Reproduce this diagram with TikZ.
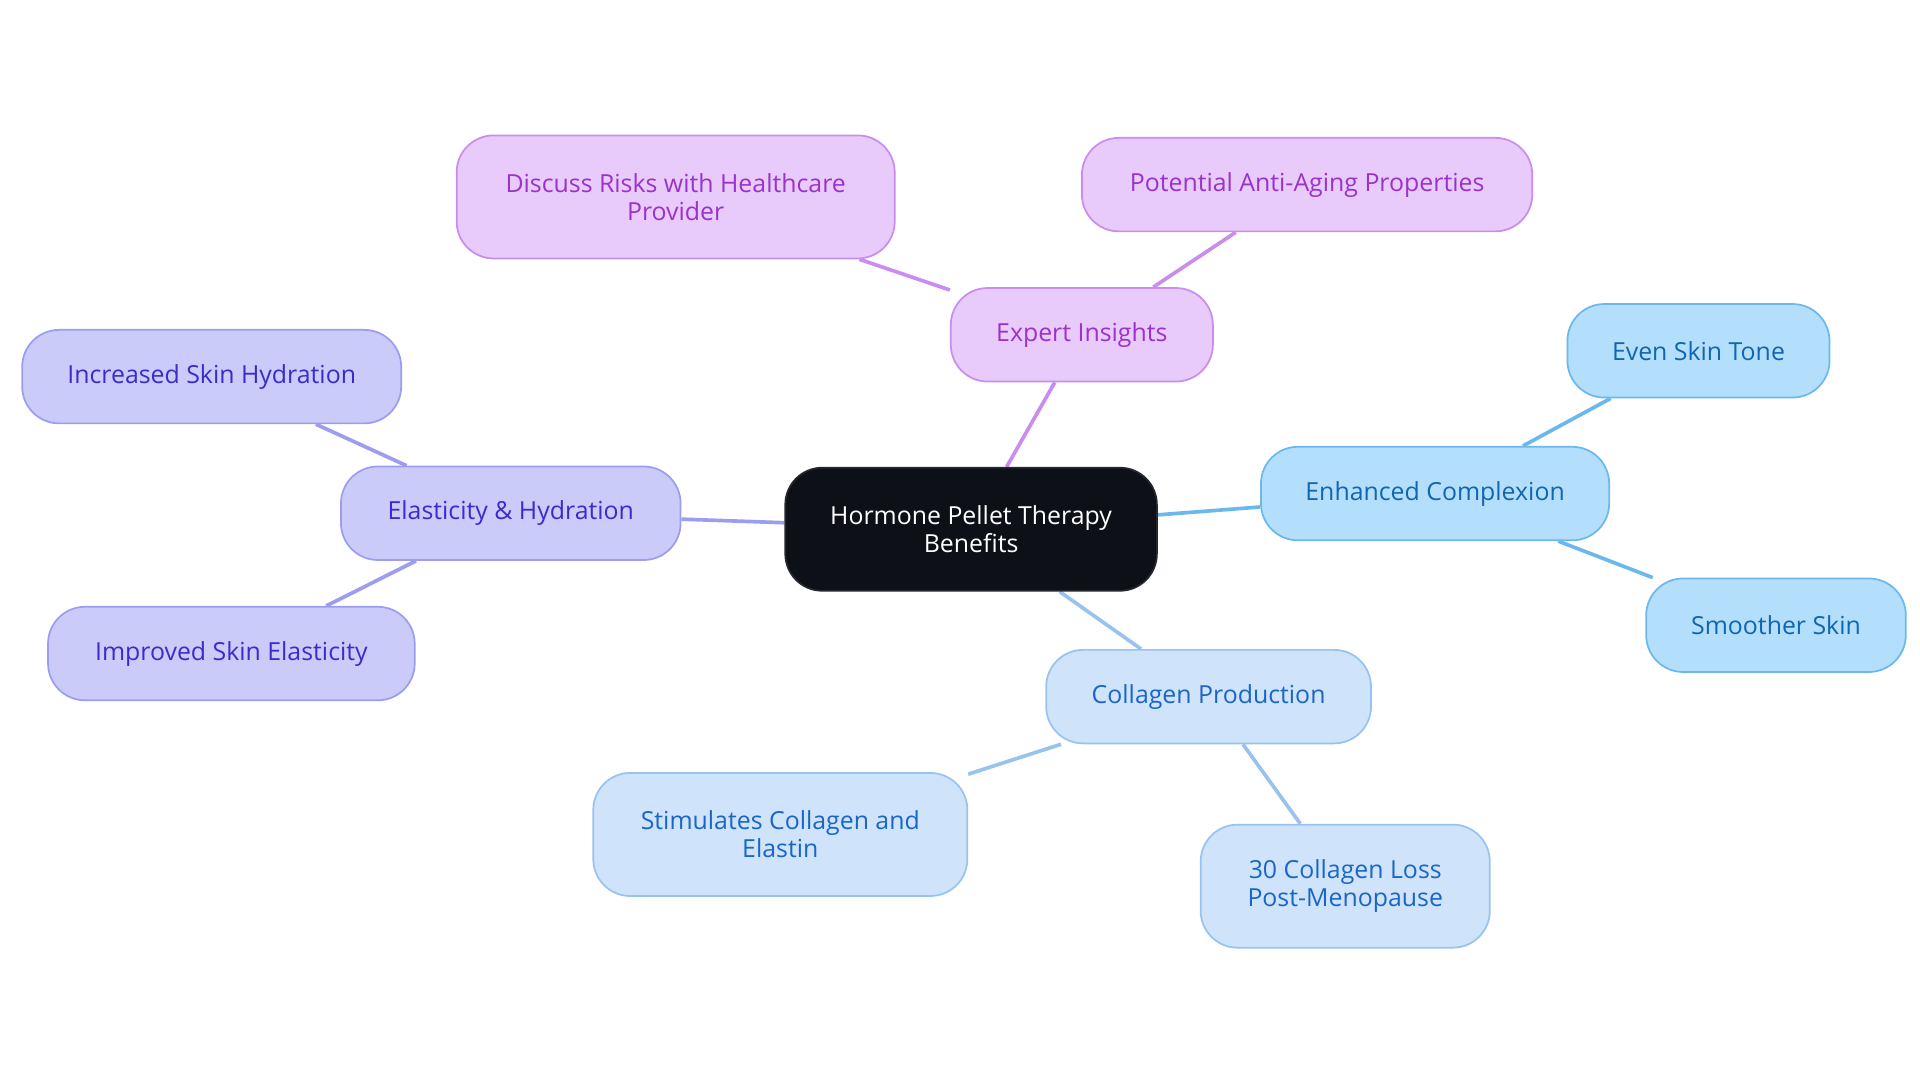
\documentclass[tikz,border=0pt]{standalone}
\usepackage{fontspec}
\setmainfont{Open Sans}
\usetikzlibrary{positioning, backgrounds}
\definecolor{rootfill}{HTML}{0D1117}
\definecolor{purplefill}{HTML}{E8CAFB}
\definecolor{purpleline}{HTML}{C98CEF}
\definecolor{purpletext}{HTML}{9A32CC}
\definecolor{indigofill}{HTML}{CBCBFA}
\definecolor{indigoline}{HTML}{9C9CF0}
\definecolor{indigotext}{HTML}{3A2CCC}
\definecolor{skyfill}{HTML}{B3DFFC}
\definecolor{skyline}{HTML}{6CB8EC}
\definecolor{skytext}{HTML}{1166B0}
\definecolor{paleblue}{HTML}{CFE3FA}
\definecolor{paleline}{HTML}{98C3EF}
\definecolor{paletext}{HTML}{1A66C8}

\begin{document}
\begin{tikzpicture}[
    x=0.02cm, y=-0.02cm,
    topic/.style={ % base style for all bubbles
        rectangle,
        rounded corners=0.6cm,
        minimum height=1.52cm,
        align=center,
        font=\fontsize{11.5}{13}\selectfont,
        line width=0.8pt
    },
    tall/.style={minimum height=2cm},
    root/.style={topic, fill=rootfill, draw=rootfill!80!gray, text=white},
    expert/.style={topic, fill=purplefill, draw=purpleline, text=purpletext},
    elastic/.style={topic, fill=indigofill, draw=indigoline, text=indigotext},
    complexion/.style={topic, fill=skyfill, draw=skyline, text=skytext},
    collagen/.style={topic, fill=paleblue, draw=paleline, text=paletext},
    link/.style={line width=1.7pt, draw=#1}
]
\useasboundingbox (0,0) rectangle (1560,880);

% Centre
\node[root, tall, minimum width=6.04cm] (hpt) at (789,430) {Hormone Pellet Therapy\\Benefits};

% Expert insights branch
\node[expert, minimum width=4.26cm] (expert) at (879,272) {Expert Insights};
\node[expert, tall, minimum width=7.12cm] (risks) at (549,160) {Discuss Risks with Healthcare\\Provider};
\node[expert, minimum width=7.32cm] (antiaging) at (1062,150) {Potential Anti-Aging Properties};

% Elasticity branch
\node[elastic, minimum width=5.52cm] (elastic) at (415,417) {Elasticity \& Hydration};
\node[elastic, minimum width=6.16cm] (hydration) at (172,306) {Increased Skin Hydration};
\node[elastic, minimum width=5.96cm] (elasticity) at (188,531) {Improved Skin Elasticity};

% Complexion branch
\node[complexion, minimum width=5.66cm] (complexion) at (1166,401) {Enhanced Complexion};
\node[complexion, minimum width=4.26cm] (tone) at (1380,285) {Even Skin Tone};
\node[complexion, minimum width=4.22cm] (smoother) at (1443,508) {Smoother Skin};

% Collagen branch
\node[collagen, minimum width=5.28cm] (collagen) at (982,566) {Collagen Production};
\node[collagen, tall, minimum width=6.08cm] (stimulates) at (634,678) {Stimulates Collagen and\\Elastin};
\node[collagen, tall, minimum width=4.7cm] (loss) at (1093,720) {30 Collagen Loss\\Post-Menopause};

% Connectors behind the bubbles
\begin{pgfonlayer}{background}
    \draw[link=purpleline] (hpt) -- (expert);
    \draw[link=purpleline] (expert) -- (risks);
    \draw[link=purpleline] (expert) -- (antiaging);
    \draw[link=indigoline] (hpt) -- (elastic);
    \draw[link=indigoline] (elastic) -- (hydration);
    \draw[link=indigoline] (elastic) -- (elasticity);
    \draw[link=skyline] (hpt) -- (complexion);
    \draw[link=skyline] (complexion) -- (tone);
    \draw[link=skyline] (complexion) -- (smoother);
    \draw[link=paleline] (hpt) -- (collagen);
    \draw[link=paleline] (collagen) -- (stimulates);
    \draw[link=paleline] (collagen) -- (loss);
\end{pgfonlayer}
\end{tikzpicture}
\end{document}
